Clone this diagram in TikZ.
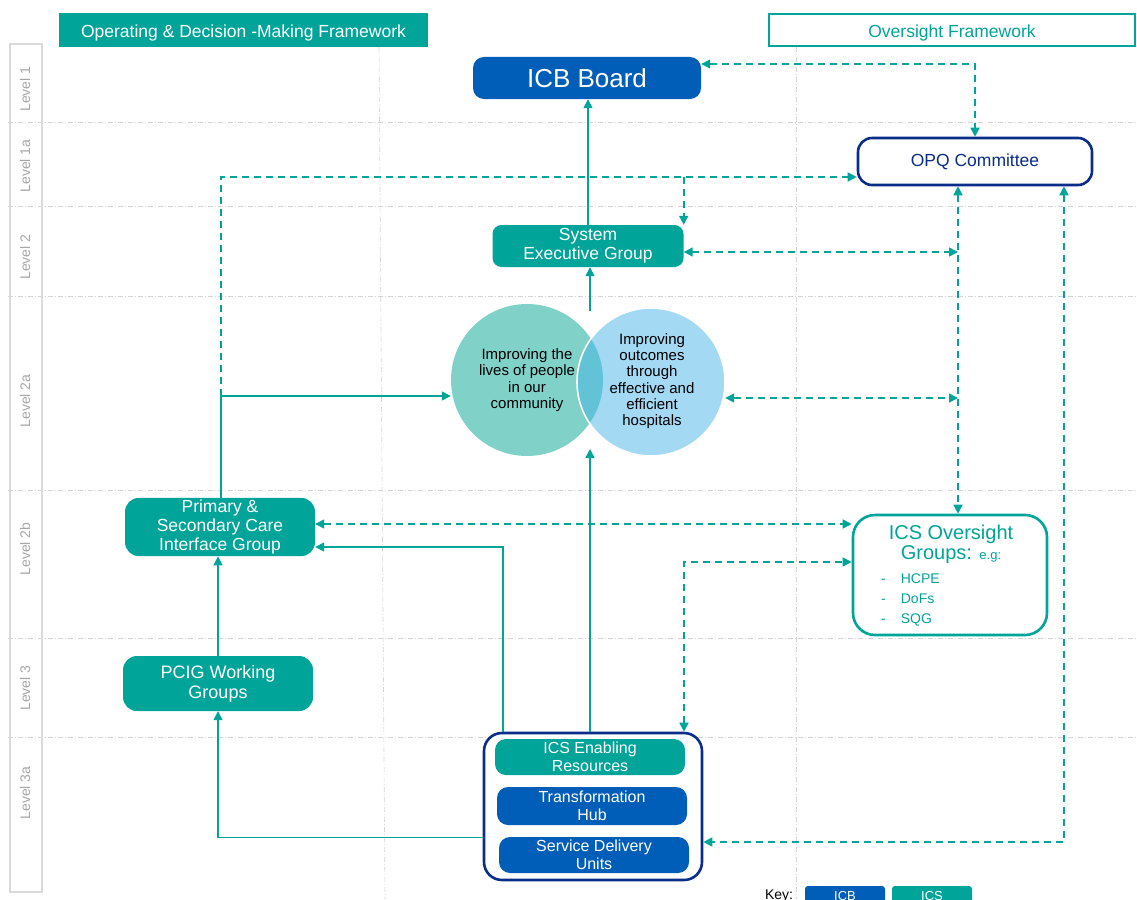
\documentclass[tikz,border=0pt]{standalone}
\usepackage{fontspec}
\setmainfont{Liberation Sans}
\usetikzlibrary{arrows.meta,positioning,calc}
\definecolor{icsteal}{HTML}{00A499}
\definecolor{icbblue}{HTML}{005EB8}
\definecolor{navy}{HTML}{0B2D8A}
\definecolor{livesgreen}{HTML}{80D2C9}
\definecolor{outcomesblue}{HTML}{A3D9F3}
\definecolor{overlapblue}{HTML}{62C2D6}
\definecolor{gridgray}{HTML}{D4D4D4}
\definecolor{levelgray}{HTML}{A6A6A6}
\definecolor{colgray}{HTML}{DADADA}
\newcommand{\fsz}[2]{\fontsize{#1}{#2}\selectfont}
\tikzset{
  icbbox/.style={fill=icbblue, text=white, rounded corners=11pt, align=center,
                 inner sep=2pt, font=\fsz{16}{18}},
  icsbox/.style={fill=icsteal, text=white, rounded corners=11pt, align=center,
                 inner sep=2pt, font=\fsz{17.5}{19}},
  ringbox/.style={draw=#1, fill=white, line width=2.6pt, rounded corners=18pt,
                  inner sep=2pt, align=center},
  venn/.style={circle, inner sep=0pt},
  venntext/.style={align=center, text=black, font=\fsz{15}{16.5}},
  link/.style={draw=icsteal, line width=1.6pt, -{Triangle[length=9pt,width=9pt]}},
  dashlink/.style={draw=icsteal, line width=1.6pt, dash pattern=on 7pt off 5pt,
                   -{Triangle[length=9pt,width=9pt]}},
  duallink/.style={dashlink, {Triangle[length=9pt,width=9pt]}-{Triangle[length=9pt,width=9pt]}},
  levellabel/.style={rotate=90, text=levelgray, font=\fsz{14}{16}},
  gridline/.style={draw=gridgray, line width=0.6pt,
                   dash pattern=on 5pt off 2pt on 1pt off 2pt},
  header/.style={minimum width=366, minimum height=32, text height=18pt, text depth=3.7pt,
                 inner ysep=0pt, font=\fsz{17.5}{20}},
  keybox/.style={text=white, rounded corners=3pt, minimum width=80, text height=12pt,
                 text depth=4pt, inner ysep=2pt, font=\fsz{13}{14}}
}

\begin{document}
\begin{tikzpicture}[x=1pt,y=-1pt]
  \useasboundingbox (0,0) rectangle (1137,899);

  % lanes
  \foreach \gy in {122,206,296,490,638,737}
    \draw[gridline] (8,\gy) -- (1137,\gy);
  \draw[gridline] (379,47) -- (385,899);
  \draw[gridline] (796,47) -- (796,899);
  \node[draw=colgray, line width=1.4pt, minimum width=32, minimum height=848,
        inner sep=0pt] (levelcol) at (26,468) {};
  \foreach \lab/\ly in {Level 1/89, Level 1a/166, Level 2/257, Level 2a/401,
                        Level 2b/549, Level 3/688, Level 3a/793}
    \node[levellabel] (lvl\ly) at (25,\ly) {\lab};

  % headers
  \node[header, fill=icsteal, text=white, minimum width=369, minimum height=34]
    (opframe) at (243.5,30) {Operating \& Decision -Making Framework};
  \node[header, draw=icsteal, line width=2.6pt, text=icsteal]
    (ovframe) at (952,30) {Oversight Framework};

  % operating side
  \node[icbbox, minimum width=228, minimum height=42, font=\fsz{26}{28}] (board) at (587,78) {ICB Board};
  \node[icsbox, minimum width=191, minimum height=42, rounded corners=9pt] (seg) at (588,246)
    {System\\Executive Group};
  \node[icsbox, minimum width=190, minimum height=56, rounded corners=14pt] (pscig) at (220,527)
    {Primary \&\\Secondary Care\\Interface Group};
  \node[icsbox, minimum width=190, minimum height=55, rounded corners=14pt, font=\fsz{18}{20}]
    (pcig) at (218,683.5) {PCIG Working\\Groups};

  % venn
  \node[venn, fill=livesgreen, minimum size=152] (lives) at (527,380) {};
  \node[venn, fill=outcomesblue, minimum size=148] (outcomes) at (651,382) {};
  \begin{scope}
    \clip (lives.center) circle[radius=76];
    \fill[overlapblue] (outcomes.center) circle[radius=74];
  \end{scope}
  \draw[white, line width=1.6pt] (outcomes.center) circle[radius=74];
  \node[venntext] (livestext) at (527,380) {Improving the\\lives of people\\in our\\community};
  \node[venntext, font=\fsz{15}{16.3}] (outcomestext) at (652,381)
    {Improving\\outcomes\\through\\effective and\\efficient\\hospitals};
  \coordinate (venntop) at (590,311);
  \coordinate (vennbot) at (590,449);

  % enabling stack
  \node[ringbox=navy, minimum width=218, minimum height=147] (hubframe) at (593,806.5) {};
  \node[icsbox, minimum width=190, minimum height=36, font=\fsz{16}{18}] (enabling) at (590,757)
    {ICS Enabling\\Resources};
  \node[icbbox, minimum width=190, minimum height=38] (hub) at (592,806) {Transformation\\Hub};
  \node[icbbox, minimum width=190, minimum height=36] (units) at (594,855) {Service Delivery\\Units};

  % oversight side
  \node[ringbox=navy, minimum width=234, minimum height=47, rounded corners=14pt,
        text=navy, font=\fsz{17.5}{19}] (opq) at (975,161.5) {OPQ Committee};
  \node[ringbox=icsteal, minimum width=194, minimum height=120, rounded corners=22pt]
    (oversight) at (950,575) {};
  \node[text=icsteal, align=center, font=\fsz{20}{20}, inner sep=0pt] (oversighttitle)
    at (951,544) {ICS Oversight\\Groups: {\fsz{13}{14}e.g:}};
  \node[text=icsteal, font=\fsz{14}{20}, anchor=west, inner sep=0pt] (oversightlist) at (881,599)
    {\begin{tabular}{@{}l@{\hspace{15pt}}l@{}}-&HCPE\\-&DoFs\\-&SQG\end{tabular}};

  % key
  \node[anchor=base, font=\fsz{14}{16}] (keylabel) at (779,899) {Key:};
  \node[keybox, fill=icbblue, anchor=base] (keyicb) at (845,900) {ICB};
  \node[keybox, fill=icsteal, anchor=base] (keyics) at (932,900) {ICS};

  % reporting lines
  \draw[link] (seg.north) -- (seg.north |- board.south);
  \draw[link] (venntop) -- (venntop |- seg.south);
  \coordinate (split) at (221,396);
  \draw[link] (pscig.north -| split) -- (split) -- (split -| lives.west);
  \draw[link] (pcig.north) -- (pcig.north |- pscig.south);
  \draw[link] ([yshift=-31]hubframe.west) -| (pcig.south);
  \draw[link] ([xshift=-90]hubframe.north) |- ([yshift=-20]pscig.east);
  \draw[link] ([xshift=-3]hubframe.north) -- (vennbot);

  % assurance lines
  \draw[duallink] ([yshift=14]board.east) -| (opq.north);
  \coordinate (upper) at (221,177);
  \draw[dashlink] (split) -- (upper) -- (upper -| opq.west);
  \draw[dashlink] (upper -| seg.north east) -- (seg.north east);
  \coordinate (railtop) at ([xshift=-17]opq.south);
  \draw[duallink] (railtop) -- (railtop |- oversight.north);
  \coordinate (segport) at ([yshift=-6]seg.east);
  \draw[duallink] (segport) -- (segport -| railtop);
  \coordinate (outport) at ([yshift=-16]outcomes.east);
  \draw[duallink] (outport) -- (outport -| railtop);
  \coordinate (pscigport) at ([yshift=3]pscig.east);
  \draw[duallink] (pscigport) -- (pscigport -| oversight.west);
  \draw[duallink] ([xshift=91]hubframe.north) |- ([yshift=13]oversight.west);
  \draw[duallink] ([xshift=89]opq.south) |- ([yshift=-35.5]hubframe.east);
\end{tikzpicture}
\end{document}
